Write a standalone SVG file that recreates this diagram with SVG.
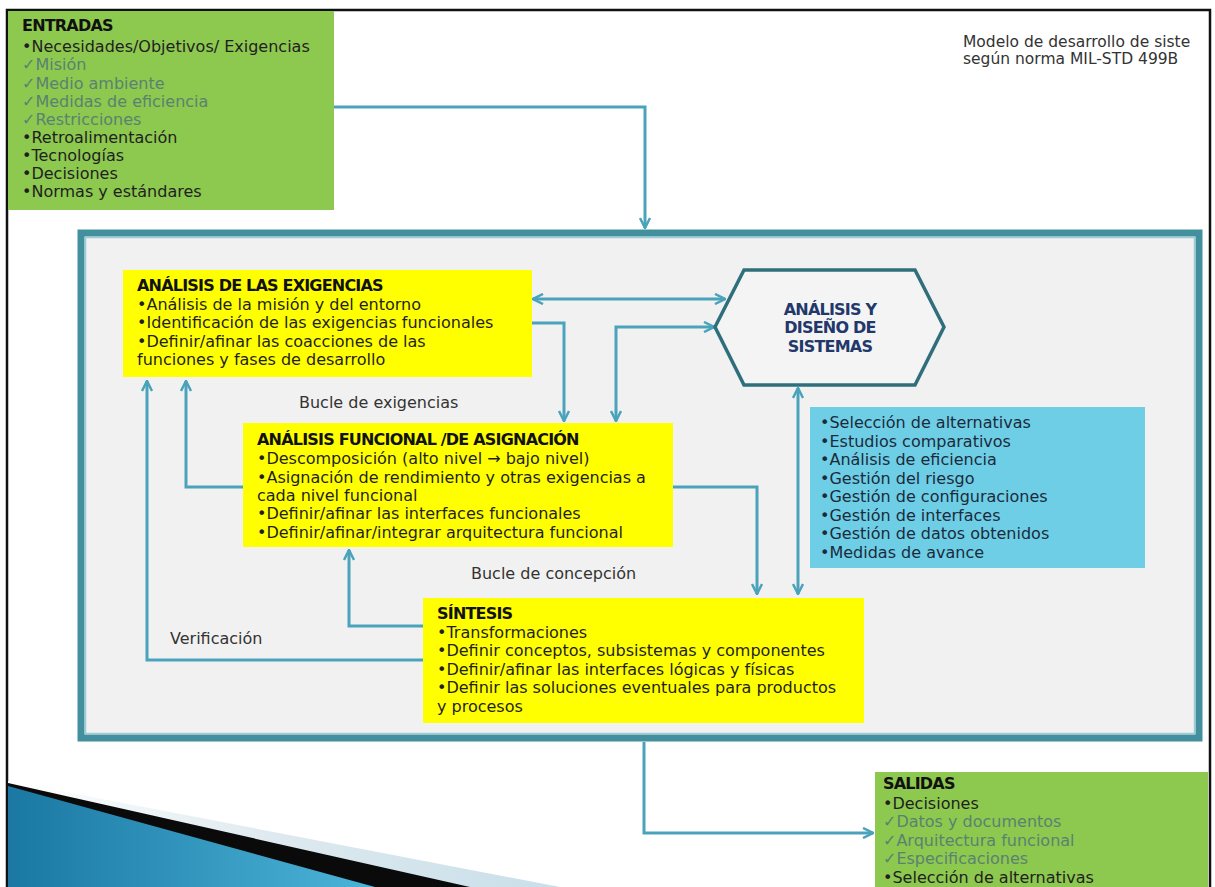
<svg xmlns="http://www.w3.org/2000/svg" width="1215" height="887" viewBox="0 0 1215 887">
<style>
.t{font-family:"DejaVu Sans","Liberation Sans",sans-serif;font-size:16px;fill:#1f1f1f}
.ck{fill:#5a8270}
.h{font-family:"DejaVu Sans","Liberation Sans",sans-serif;font-size:16px;font-weight:bold;letter-spacing:-0.8px;fill:#111}
.bl{fill:#1b2b3b}
.lbl{font-family:"DejaVu Sans","Liberation Sans",sans-serif;font-size:16px;fill:#333}
.c{fill:none;stroke:#4aa3bb;stroke-width:3}
</style>
<defs>
<marker id="ah" viewBox="0 0 12 12" refX="11" refY="6" markerWidth="12" markerHeight="12" markerUnits="userSpaceOnUse" orient="auto-start-reverse">
<path d="M1,1 L11,6 L1,11" fill="none" stroke="#4aa3bb" stroke-width="2.5"/>
</marker>
<linearGradient id="gBlue" x1="0" y1="0" x2="1" y2="0">
<stop offset="0" stop-color="#1a78a2"/>
<stop offset="1" stop-color="#4cb4d9"/>
</linearGradient>
<linearGradient id="gLight" x1="0" y1="0" x2="1" y2="0">
<stop offset="0" stop-color="#ffffff"/>
<stop offset="0.5" stop-color="#dde9ef"/>
<stop offset="1" stop-color="#c9dfe9"/>
</linearGradient>
</defs>

<rect x="0" y="0" width="1215" height="887" fill="#ffffff"/>
<rect x="7" y="10" width="1203" height="900" fill="#ffffff" stroke="#111" stroke-width="2.5"/>

<g id="swoosh">
<polygon points="8,781 560,887 8,887" fill="url(#gLight)"/>
<polygon points="8,783 470,887 8,887" fill="#0a0a0a"/>
<polygon points="8,786 375,887 8,887" fill="url(#gBlue)"/>
</g>

<g id="title">
<text class="lbl" x="963" y="47" style="font-size:15.5px">Modelo de desarrollo de siste</text>
<text class="lbl" x="963" y="64" style="font-size:15.5px">según norma MIL-STD 499B</text>
</g>

<g id="frame">
<rect x="81" y="233" width="1118" height="505" fill="#f1f1f1" stroke="#428f9e" stroke-width="7"/>
<rect x="85.5" y="237.5" width="1109" height="496" fill="none" stroke="#9ccdd7" stroke-width="1.5"/>
</g>

<g id="entradas">
<rect x="8" y="11" width="326" height="199" fill="#8dc84f"/>
<text class="h" x="22" y="31">ENTRADAS</text>
<text class="t" x="22" y="52">•Necesidades/Objetivos/ Exigencias</text>
<text class="t ck" x="22" y="70">✓Misión</text>
<text class="t ck" x="22" y="88.5">✓Medio ambiente</text>
<text class="t ck" x="22" y="106.5">✓Medidas de eficiencia</text>
<text class="t ck" x="22" y="124.5">✓Restricciones</text>
<text class="t" x="22" y="142.5">•Retroalimentación</text>
<text class="t" x="22" y="160.5">•Tecnologías</text>
<text class="t" x="22" y="179">•Decisiones</text>
<text class="t" x="22" y="197">•Normas y estándares</text>
</g>

<g id="connectors">
<path class="c" d="M334,107 H645 V228" marker-end="url(#ah)"/>
<path class="c" d="M533,299 H725" marker-start="url(#ah)" marker-end="url(#ah)"/>
<path class="c" d="M532,323 H564 V421" marker-end="url(#ah)"/>
<path class="c" d="M714,327 H616 V421" marker-start="url(#ah)" marker-end="url(#ah)"/>
<path class="c" d="M798,388 V594" marker-start="url(#ah)" marker-end="url(#ah)"/>
<path class="c" d="M673,487 H757 V594" marker-end="url(#ah)"/>
<path class="c" d="M423,626 H349 V550" marker-end="url(#ah)"/>
<path class="c" d="M423,660 H147 V381" marker-end="url(#ah)"/>
<path class="c" d="M243,487 H186 V381" marker-end="url(#ah)"/>
<path class="c" d="M644,742 V833 H873" marker-end="url(#ah)"/>
</g>

<g id="exigencias">
<rect x="123" y="270" width="409" height="107" fill="#ffff00"/>
<text class="h" x="137" y="291">ANÁLISIS DE LAS EXIGENCIAS</text>
<text class="t" x="137" y="310">•Análisis de la misión y del entorno</text>
<text class="t" x="137" y="328">•Identificación de las exigencias funcionales</text>
<text class="t" x="137" y="347">•Definir/afinar las coacciones de las</text>
<text class="t" x="137" y="365">funciones y fases de desarrollo</text>
</g>

<g id="hexagono">
<polygon points="715,327 744,270 915,270 944,327 915,385 744,385" fill="#f4f4f4" stroke="#2f6f7c" stroke-width="3.5"/>
<text class="h" x="830" y="315" text-anchor="middle" style="fill:#22386a">ANÁLISIS Y</text>
<text class="h" x="830" y="333" text-anchor="middle" style="fill:#22386a">DISEÑO DE</text>
<text class="h" x="830" y="352" text-anchor="middle" style="fill:#22386a">SISTEMAS</text>
</g>

<g id="funcional">
<rect x="243" y="423" width="430" height="124" fill="#ffff00"/>
<text class="h" x="257" y="445">ANÁLISIS FUNCIONAL /DE ASIGNACIÓN</text>
<text class="t" x="257" y="464">•Descomposición (alto nivel → bajo nivel)</text>
<text class="t" x="257" y="482.5">•Asignación de rendimiento y otras exigencias a</text>
<text class="t" x="257" y="500.5">cada nivel funcional</text>
<text class="t" x="257" y="519">•Definir/afinar las interfaces funcionales</text>
<text class="t" x="257" y="537.5">•Definir/afinar/integrar arquitectura funcional</text>
</g>

<g id="gestion">
<rect x="810" y="407" width="335" height="161" fill="#6ecee6"/>
<text class="t bl" x="820" y="428">•Selección de alternativas</text>
<text class="t bl" x="820" y="446.5">•Estudios comparativos</text>
<text class="t bl" x="820" y="465">•Análisis de eficiencia</text>
<text class="t bl" x="820" y="483.5">•Gestión del riesgo</text>
<text class="t bl" x="820" y="502">•Gestión de configuraciones</text>
<text class="t bl" x="820" y="520.5">•Gestión de interfaces</text>
<text class="t bl" x="820" y="539">•Gestión de datos obtenidos</text>
<text class="t bl" x="820" y="557.5">•Medidas de avance</text>
</g>

<g id="sintesis">
<rect x="423" y="598" width="441" height="125" fill="#ffff00"/>
<text class="h" x="437" y="619">SÍNTESIS</text>
<text class="t" x="437" y="637.5">•Transformaciones</text>
<text class="t" x="437" y="656">•Definir conceptos, subsistemas y componentes</text>
<text class="t" x="437" y="674.5">•Definir/afinar las interfaces lógicas y físicas</text>
<text class="t" x="437" y="693">•Definir las soluciones eventuales para productos</text>
<text class="t" x="437" y="711.5">y procesos</text>
</g>

<g id="labels">
<text class="lbl" x="299" y="408">Bucle de exigencias</text>
<text class="lbl" x="471" y="579">Bucle de concepción</text>
<text class="lbl" x="170" y="644">Verificación</text>
</g>

<g id="salidas">
<rect x="875" y="772" width="333" height="115" fill="#8dc84f"/>
<text class="h" x="883" y="789">SALIDAS</text>
<text class="t" x="883" y="808.5">•Decisiones</text>
<text class="t ck" x="883" y="827">✓Datos y documentos</text>
<text class="t ck" x="883" y="845.5">✓Arquitectura funcional</text>
<text class="t ck" x="883" y="864">✓Especificaciones</text>
<text class="t" x="883" y="882.5">•Selección de alternativas</text>
</g>
</svg>
